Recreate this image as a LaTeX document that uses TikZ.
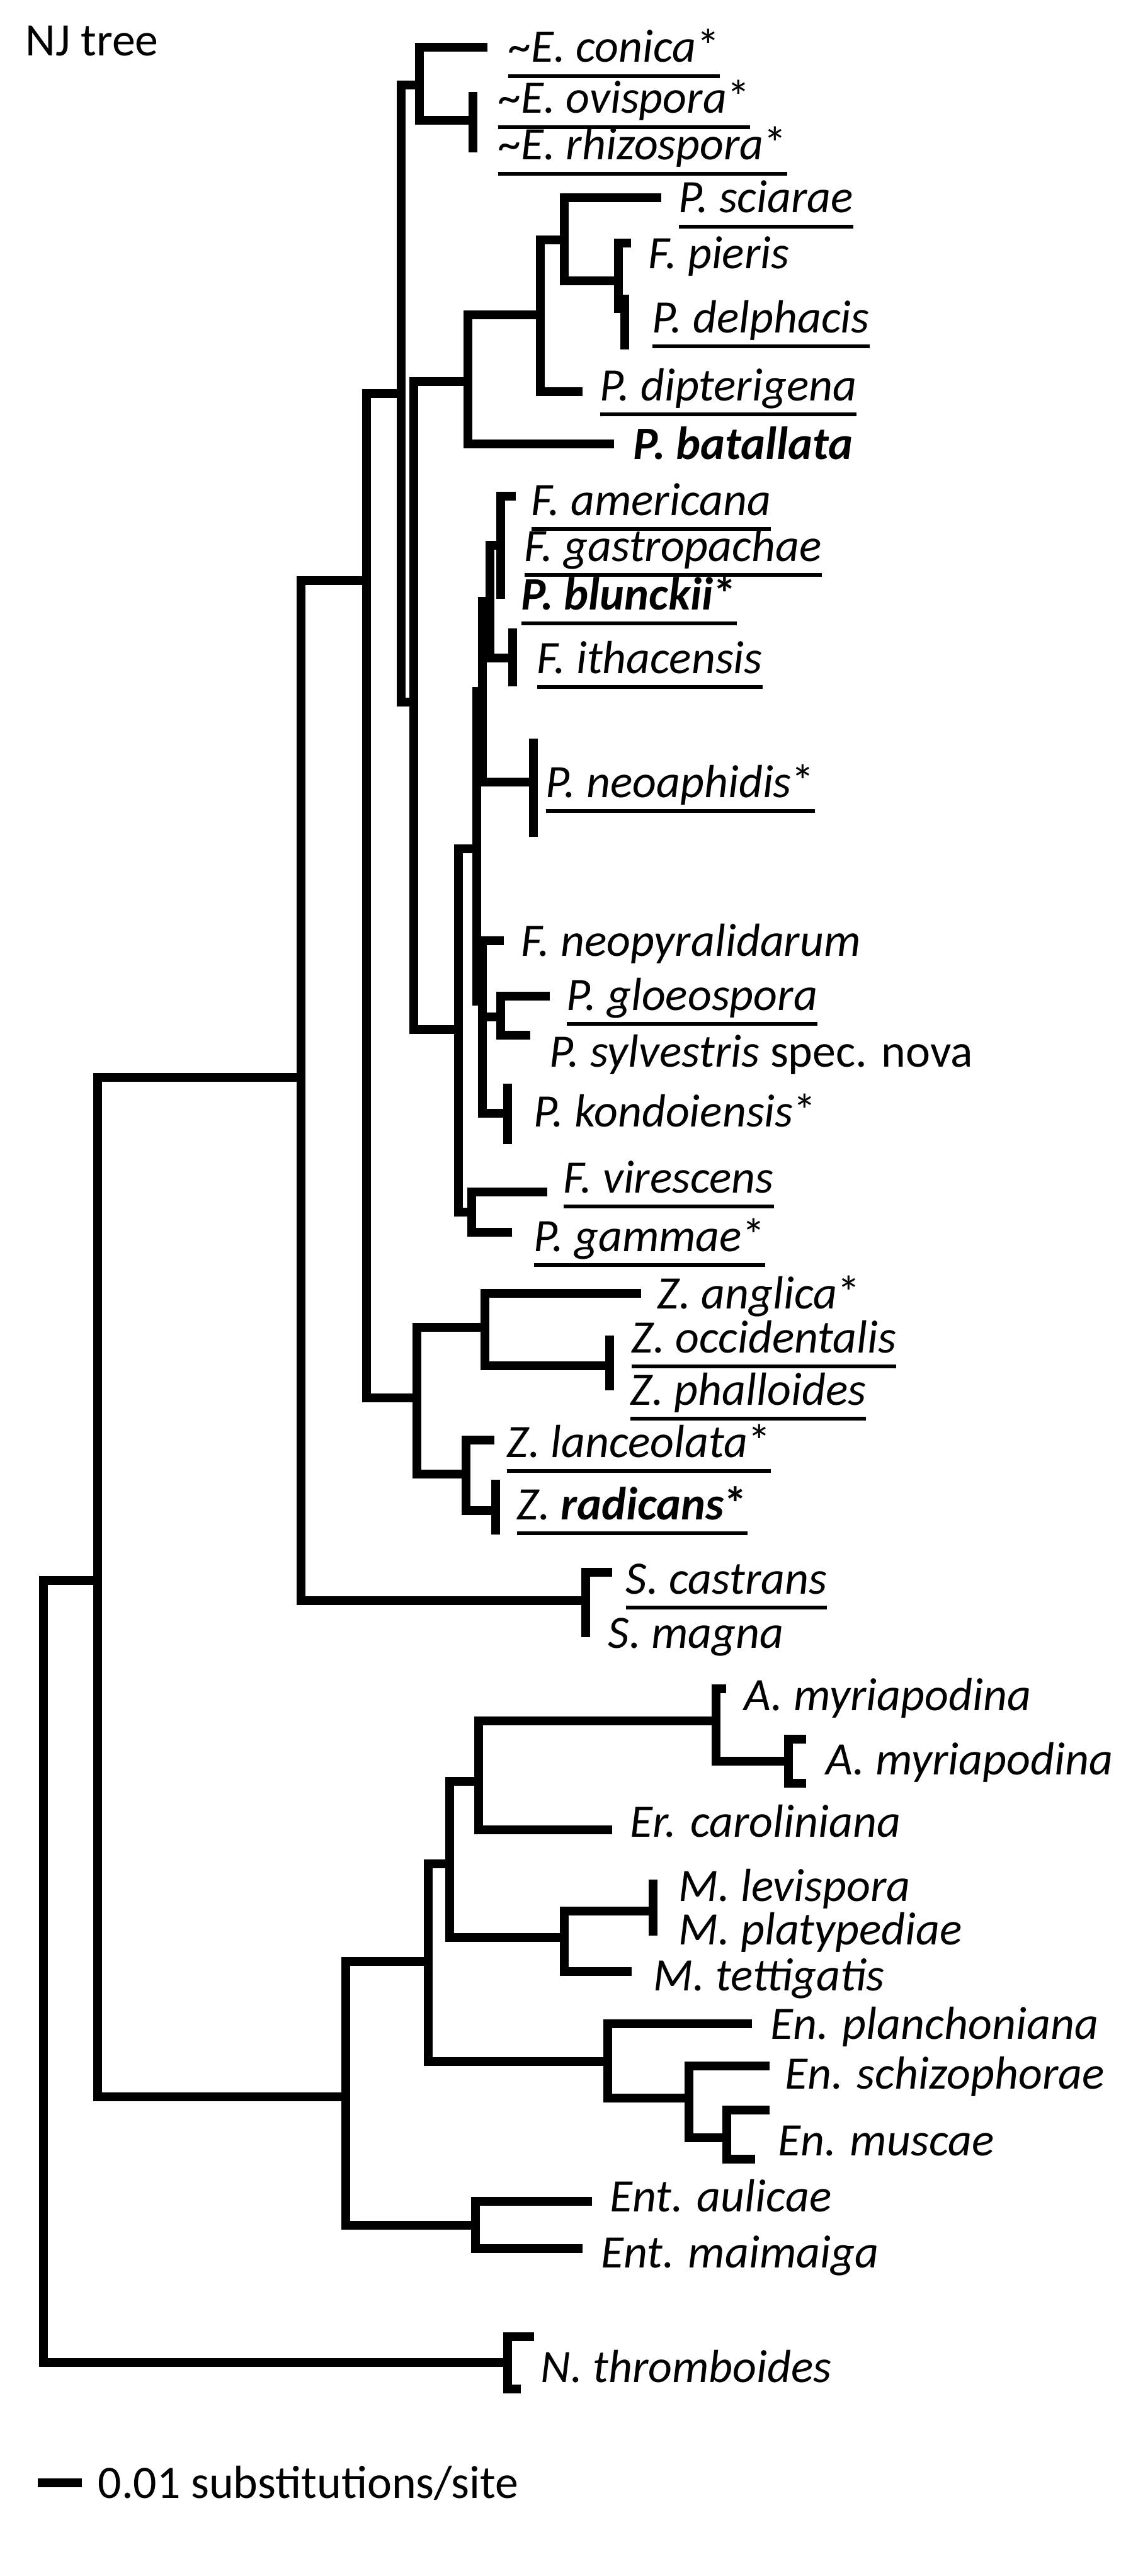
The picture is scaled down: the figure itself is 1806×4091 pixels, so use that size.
\documentclass[tikz,border=0pt]{standalone}
\usepackage{fontspec}
\setmainfont{Carlito}
\newsavebox\ulbox
\newcommand\myul[1]{\sbox\ulbox{#1}\rlap{\usebox\ulbox}\rule[-7.2pt]{\wd\ulbox}{1.7pt}}
\tikzset{br/.style={line width=0.14cm, line cap=rect},
 lab/.style={anchor=base west, inner sep=0pt, font=\fontsize{21}{25}\selectfont}}
\newcommand\vb[3]{\draw[br] (#1,#2)--(#1,#3);}
\newcommand\hb[3]{\draw[br] (#2,#1)--(#3,#1);}
\newcommand\lab[4]{\node[lab] (#1) at (#2,#3+24) {#4};}
\begin{document}
\begin{tikzpicture}[x=0.01cm,y=-0.01cm]
\useasboundingbox (0,0) rectangle (1806,4091);
\node[lab,anchor=base west] (title) at (40,89) {NJ tree};
% E group
\hb{75}{666}{767}\vb{666}{75}{191}\hb{191}{666}{751}\vb{751}{153}{235}
\hb{135}{637}{666}\vb{637}{135}{1115}\hb{625}{582}{637}\hb{1115}{637}{657}
\vb{657}{606}{1635}\hb{606}{657}{743}\vb{743}{500}{705}\hb{500}{743}{858}
\hb{705}{743}{968}\vb{858}{381}{622}\hb{381}{858}{896}\hb{622}{858}{918}
\vb{896}{314}{446}\hb{314}{896}{1043}\hb{446}{896}{982}\vb{982}{386}{490}
\hb{386}{982}{995}\vb{992}{475}{548}\hb{490}{982}{992}
% Pandora
\hb{1635}{657}{728}\vb{728}{1348}{1925}\hb{1348}{728}{757}\vb{757}{1098}{1590}
\hb{1098}{757}{766}\vb{766}{955}{1242}\hb{955}{766}{778}\vb{778}{866}{1045}
\hb{866}{778}{795}\vb{795}{788}{944}\hb{788}{795}{812}\hb{1045}{778}{814}
\vb{814}{1005}{1083}\hb{1242}{766}{847}\vb{847}{1180}{1322}\hb{1590}{757}{766}
\vb{766}{1494}{1768}\hb{1494}{766}{793}\hb{1615}{766}{795}\vb{795}{1582}{1644}
\hb{1582}{795}{866}\hb{1644}{795}{835}\hb{1768}{766}{806}\vb{806}{1728}{1810}
\hb{1925}{728}{749}\vb{749}{1893}{1957}\hb{1893}{749}{862}\hb{1957}{749}{806}
% main
\vb{582}{625}{2220}\hb{922}{478}{582}\vb{478}{922}{2542}\hb{1711}{155}{478}
\vb{155}{1711}{3330}\hb{2510}{69}{155}\vb{69}{2510}{3752}
% Zygo
\hb{2220}{582}{662}\vb{662}{2108}{2341}\hb{2108}{662}{770}\vb{770}{2054}{2169}
\hb{2054}{770}{1011}\hb{2169}{770}{968}\vb{968}{2128}{2201}\hb{2341}{662}{740}
\vb{740}{2287}{2399}\hb{2287}{740}{778}\hb{2399}{740}{787}\vb{787}{2357}{2430}
% S
\hb{2542}{478}{930}\vb{930}{2497}{2593}\hb{2497}{930}{965}
% Ento
\hb{3330}{155}{549}\vb{549}{3115}{3534}\hb{3115}{549}{680}\vb{680}{2960}{3274}
\hb{2960}{680}{714}\vb{714}{2829}{3077}\hb{2829}{714}{760}\vb{760}{2733}{2906}
\hb{2733}{760}{1137}\vb{1137}{2682}{2797}\hb{2682}{1137}{1146}\hb{2797}{1137}{1252}
\vb{1252}{2762}{2832}\hb{2762}{1252}{1273}\hb{2832}{1252}{1273}\hb{2906}{760}{965}
\hb{3077}{714}{896}\vb{896}{3035}{3131}\hb{3035}{896}{1037}\vb{1037}{2992}{3067}
\hb{3131}{896}{996}\hb{3274}{680}{965}\vb{965}{3214}{3332}\hb{3214}{965}{1187}
\hb{3332}{965}{1094}\vb{1094}{3281}{3395}\hb{3281}{1094}{1215}\hb{3395}{1094}{1154}
\vb{1154}{3351}{3429}\hb{3351}{1154}{1215}\hb{3429}{1154}{1192}
\hb{3534}{549}{755}\vb{755}{3496}{3571}\hb{3496}{755}{933}\hb{3571}{755}{918}
% root
\hb{3752}{69}{806}\vb{806}{3711}{3794}\hb{3711}{806}{841}\hb{3794}{806}{820}
% scale
\hb{3943}{67}{123}
\lab{scale}{155}{3943}{0.01 substitutions/site}
% labels
\lab{l1}{806}{75}{\myul{\textasciitilde\textit{E. conica}*}}
\lab{l2}{790}{156}{\myul{\textasciitilde\textit{E. ovispora}*}}
\lab{l3}{790}{230}{\myul{\textasciitilde\textit{E. rhizospora}*}}
\lab{l4}{1077}{314}{\myul{\textit{P. sciarae}}}
\lab{l5}{1029}{402}{\textit{F. pieris}}
\lab{l6}{1035}{504}{\myul{\textit{P. delphacis}}}
\lab{l7}{952}{612}{\myul{\textit{P. dipterigena}}}
\lab{l8}{1005}{705}{\textbf{\textit{P. batallata}}}
\lab{l9}{843}{794}{\myul{\textit{F. americana}}}
\lab{l10}{832}{867}{\myul{\textit{F. gastropachae}}}
\lab{l11}{827}{944}{\myul{\textbf{\textit{P. blunckii}*}}}
\lab{l12}{852}{1045}{\myul{\textit{F. ithacensis}}}
\lab{l13}{866}{1242}{\myul{\textit{P. neoaphidis}*}}
\lab{l14}{827}{1494}{\textit{F. neopyralidarum}}
\lab{l15}{899}{1580}{\myul{\textit{P. gloeospora}}}
\lab{l16}{872}{1670}{\textit{P. sylvestris} spec. nova}
\lab{l17}{847}{1765}{\textit{P. kondoiensis}*}
\lab{l18}{894}{1870}{\myul{\textit{F. virescens}}}
\lab{l19}{847}{1963}{\myul{\textit{P. gammae}*}}
\lab{l20}{1043}{2054}{\textit{Z. anglica}*}
\lab{l21}{1002}{2124}{\myul{\textit{Z. occidentalis}}}
\lab{l22}{1000}{2207}{\myul{\textit{Z. phalloides}}}
\lab{l23}{804}{2290}{\myul{\textit{Z. lanceolata}*}}
\lab{l24}{820}{2389}{\myul{\textit{Z. \textbf{radicans}}\textbf{*}}}
\lab{l25}{993}{2507}{\myul{\textit{S. castrans}}}
\lab{l26}{965}{2593}{\textit{S. magna}}
\lab{l27}{1181}{2692}{\textit{A. myriapodina}}
\lab{l28}{1311}{2794}{\textit{A. myriapodina}}
\lab{l29}{1000}{2893}{\textit{Er. caroliniana}}
\lab{l30}{1077}{2995}{\textit{M. levispora}}
\lab{l31}{1077}{3064}{\textit{M. platypediae}}
\lab{l32}{1037}{3137}{\textit{M. tettigatis}}
\lab{l33}{1223}{3214}{\textit{En. planchoniana}}
\lab{l34}{1246}{3293}{\textit{En. schizophorae}}
\lab{l35}{1235}{3399}{\textit{En. muscae}}
\lab{l36}{968}{3488}{\textit{Ent. aulicae}}
\lab{l37}{954}{3577}{\textit{Ent. maimaiga}}
\lab{l38}{858}{3759}{\textit{N. thromboides}}
\end{tikzpicture}
\end{document}
